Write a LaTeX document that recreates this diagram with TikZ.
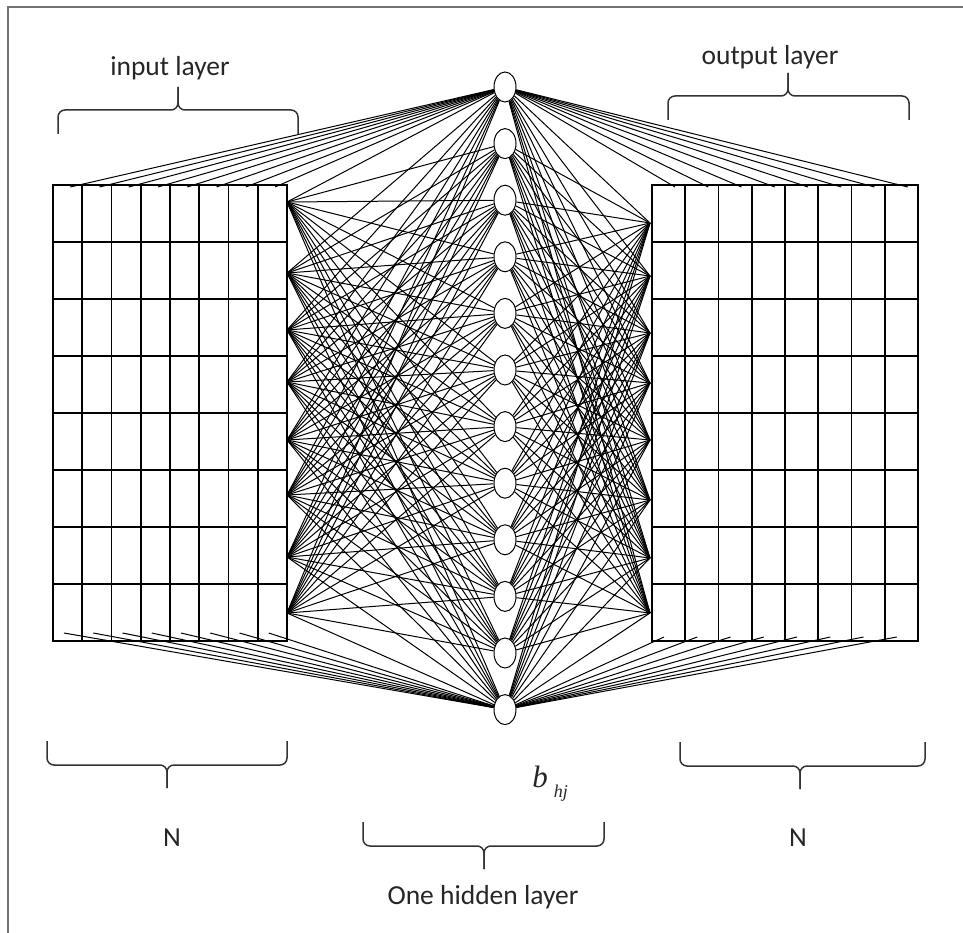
\documentclass[tikz,border=0pt]{standalone}
\usepackage{fontspec}
\setmainfont{Carlito}
\newfontfamily\biasfont{Liberation Serif}
\usetikzlibrary{shapes.geometric}
\newcommand{\layerbrace}[5]{%
	\draw[brace line] (#1,{#4+#5*24}) -- (#1,#4) -- (#3,#4) -- (#3,{#4-#5*23});
	\draw[brace line] (#2,{#4+#5*24}) -- (#2,#4) -- (#3,#4) -- (#3,{#4-#5*23});
}
\begin{document}
\begin{tikzpicture}[x=1pt, y=-1pt]
			\tikzset{
				frame line/.style={draw=black!55, line width=2pt},
				cell line/.style={black, line width=1.8pt, line cap=rect},
				link/.style={black, line width=1pt},
				neuron/.style={ellipse, draw, fill=white, line width=1pt, minimum width=22pt,
						minimum height=30pt, inner sep=0},
				brace line/.style={black!80, line width=1.5pt, rounded corners=7pt},
				label text/.style={font=\fontsize{27.5}{33}\selectfont, text=black!85},
			}
			\useasboundingbox (0,0) rectangle (963,933);
			\draw[frame line] (8,933) -- (8,7) -- (963,7);
			\foreach \k in {0,...,11}
				{
					\node[neuron] (h\k) at (505, {87+56.6*\k}) {};
				}
			\foreach \c in {0,...,8}
				{
					\draw[cell line] ({53+29.25*\c},185) -- ({53+29.25*\c},641);
					\draw[cell line] ({652+33.25*\c},185) -- ({652+33.25*\c},641);
					\draw[cell line] (53,{185+57*\c}) -- (287,{185+57*\c});
					\draw[cell line] (652,{185+57*\c}) -- (918,{185+57*\c});
				}
			\foreach \y [count=\i] in {202,273,330,382,440,495,557,613}
				{
					\coordinate (in\i) at (287,\y);
				}
			\foreach \y [count=\i] in {223,276,333,383,440,500,558,613}
				{
					\coordinate (out\i) at (650,\y);
				}
			\foreach \i in {1,...,8}
				{
					\coordinate (it\i) at ({53+29.25*\i-12},187);
					\coordinate (ib\i) at ({53+29.25*(\i-1)+11},633);
					\coordinate (ot\i) at ({652+33.25*(\i-1)+23},187);
					\coordinate (ob\i) at ({652+33.25*(\i-1)+12},637);
				}
			\foreach \i in {1,...,8}
				{
					\foreach \k in {0,...,11}{
							\draw[link] (in\i) -- (h\k);
							\draw[link] (h\k) -- (out\i);
						}
					\draw[link] (it\i) -- (h0);
					\draw[link] (ib\i) -- (h11);
					\draw[link] (h0) -- (ot\i);
					\draw[link] (h11) -- (ob\i);
				}
			\layerbrace{58}{298}{178}{110}{1}
			\layerbrace{668}{909}{788}{96}{1}
			\layerbrace{47}{287}{167}{765}{-1}
			\layerbrace{680}{925}{800}{766}{-1}
			\layerbrace{363}{604}{484}{846}{-1}
			\node[label text] (inputlabel) at (170,68) {input layer};
			\node[label text] (outputlabel) at (770,57) {output layer};
			\node[label text] (inputsize) at (172,838) {N};
			\node[label text] (outputsize) at (798,838) {N};
			\node[label text] (hiddenlabel) at (483,897) {One hidden layer};
			\node[text=black!85, inner sep=0] (bias) at (550,784)
			{\biasfont\itshape\fontsize{31}{36}\selectfont b\hspace{6pt}\raisebox{-10pt}{\fontsize{18}{20}\selectfont hj}};
		\end{tikzpicture}
\end{document}
